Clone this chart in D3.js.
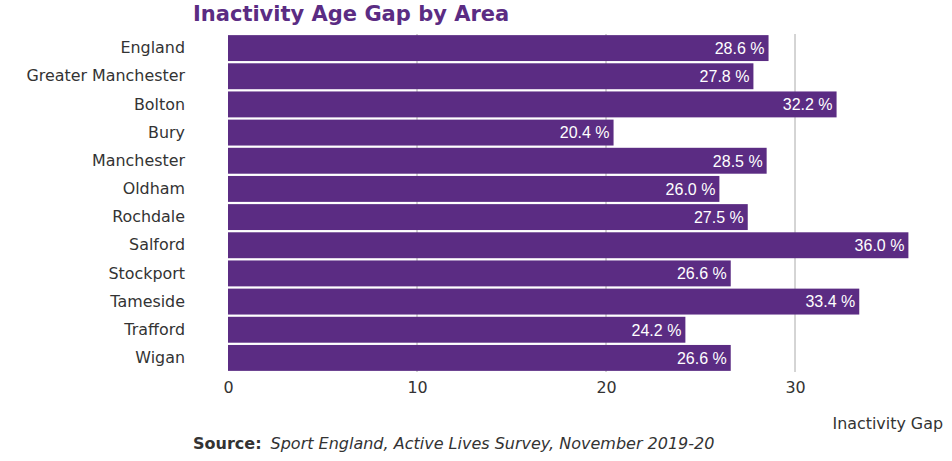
<!DOCTYPE html>
<html><head><meta charset="utf-8">
<script src="https://cdn.jsdelivr.net/npm/d3@7"></script>
<style>body{margin:0;background:#fff}</style>
</head><body>
<svg id="c" width="952" height="461"></svg>
<script>
const categories = ["England","Greater Manchester","Bolton","Bury","Manchester","Oldham","Rochdale","Salford","Stockport","Tameside","Trafford","Wigan"];
const values = [28.6,27.8,32.2,20.4,28.5,26.0,27.5,36.0,26.6,33.4,24.2,26.6];
const xTicks = [0,10,20,30];

const svg = d3.select("#c");
const x = d3.scaleLinear().domain([0,38]).range([228, 228+38*18.9]);
const y = d3.scaleBand().domain(categories).range([34,372]).paddingInner(0.08).paddingOuter(0.04);
const purple = "#5b2c83";
const font = "DejaVu Sans, Verdana, sans-serif";

// gridlines
svg.append("g").selectAll("line").data(xTicks.filter(d=>d>0)).join("line")
  .attr("x1",d=>x(d)).attr("x2",d=>x(d)).attr("y1",34).attr("y2",372)
  .attr("stroke","#aaaaaa").attr("stroke-width",1);

// bars
svg.append("g").selectAll("rect").data(categories).join("rect")
  .attr("x",x(0)).attr("y",d=>y(d)).attr("height",y.bandwidth())
  .attr("width",(d,i)=>x(values[i])-x(0)).attr("fill",purple);

// value labels
svg.append("g").selectAll("text").data(categories).join("text")
  .attr("x",(d,i)=>x(values[i])-4).attr("y",d=>y(d)+y.bandwidth()/2)
  .attr("dy","0.36em").attr("text-anchor","end")
  .attr("fill","#fff").attr("font-family","Liberation Sans, Arial, sans-serif").attr("font-size",16)
  .text((d,i)=>values[i].toFixed(1)+" %");

// y axis labels
const yAxis = d3.axisLeft(y).tickSize(0).tickPadding(0);
const gy = svg.append("g").attr("transform","translate(185,0)").call(yAxis);
gy.select(".domain").remove();
gy.selectAll("text").attr("font-family",font).attr("font-size",15.9).attr("fill","#333");

// x axis
const xAxis = d3.axisBottom(x).tickValues(xTicks).tickSize(0).tickPadding(0);
const gx = svg.append("g").attr("transform","translate(0,382)").call(xAxis);
gx.select(".domain").remove();
gx.selectAll("text").attr("font-family",font).attr("font-size",15.9).attr("fill","#333");

// axis title
svg.append("text").attr("x",943).attr("y",429).attr("text-anchor","end")
  .attr("font-family",font).attr("font-size",15.9).attr("fill","#333").text("Inactivity Gap");

// title
svg.append("text").attr("x",193).attr("y",21).attr("font-family",font)
  .attr("font-size",21).attr("font-weight","bold").attr("fill",purple).text("Inactivity Age Gap by Area");

// source
const src = svg.append("text").attr("x",193).attr("y",449).attr("font-family",font)
  .attr("font-size",16).attr("fill","#333");
src.append("tspan").attr("font-weight","bold").text("Source:");
src.append("tspan").attr("font-style","italic").attr("dx",9).text("Sport England, Active Lives Survey, November 2019-20");
</script>
</body></html>
